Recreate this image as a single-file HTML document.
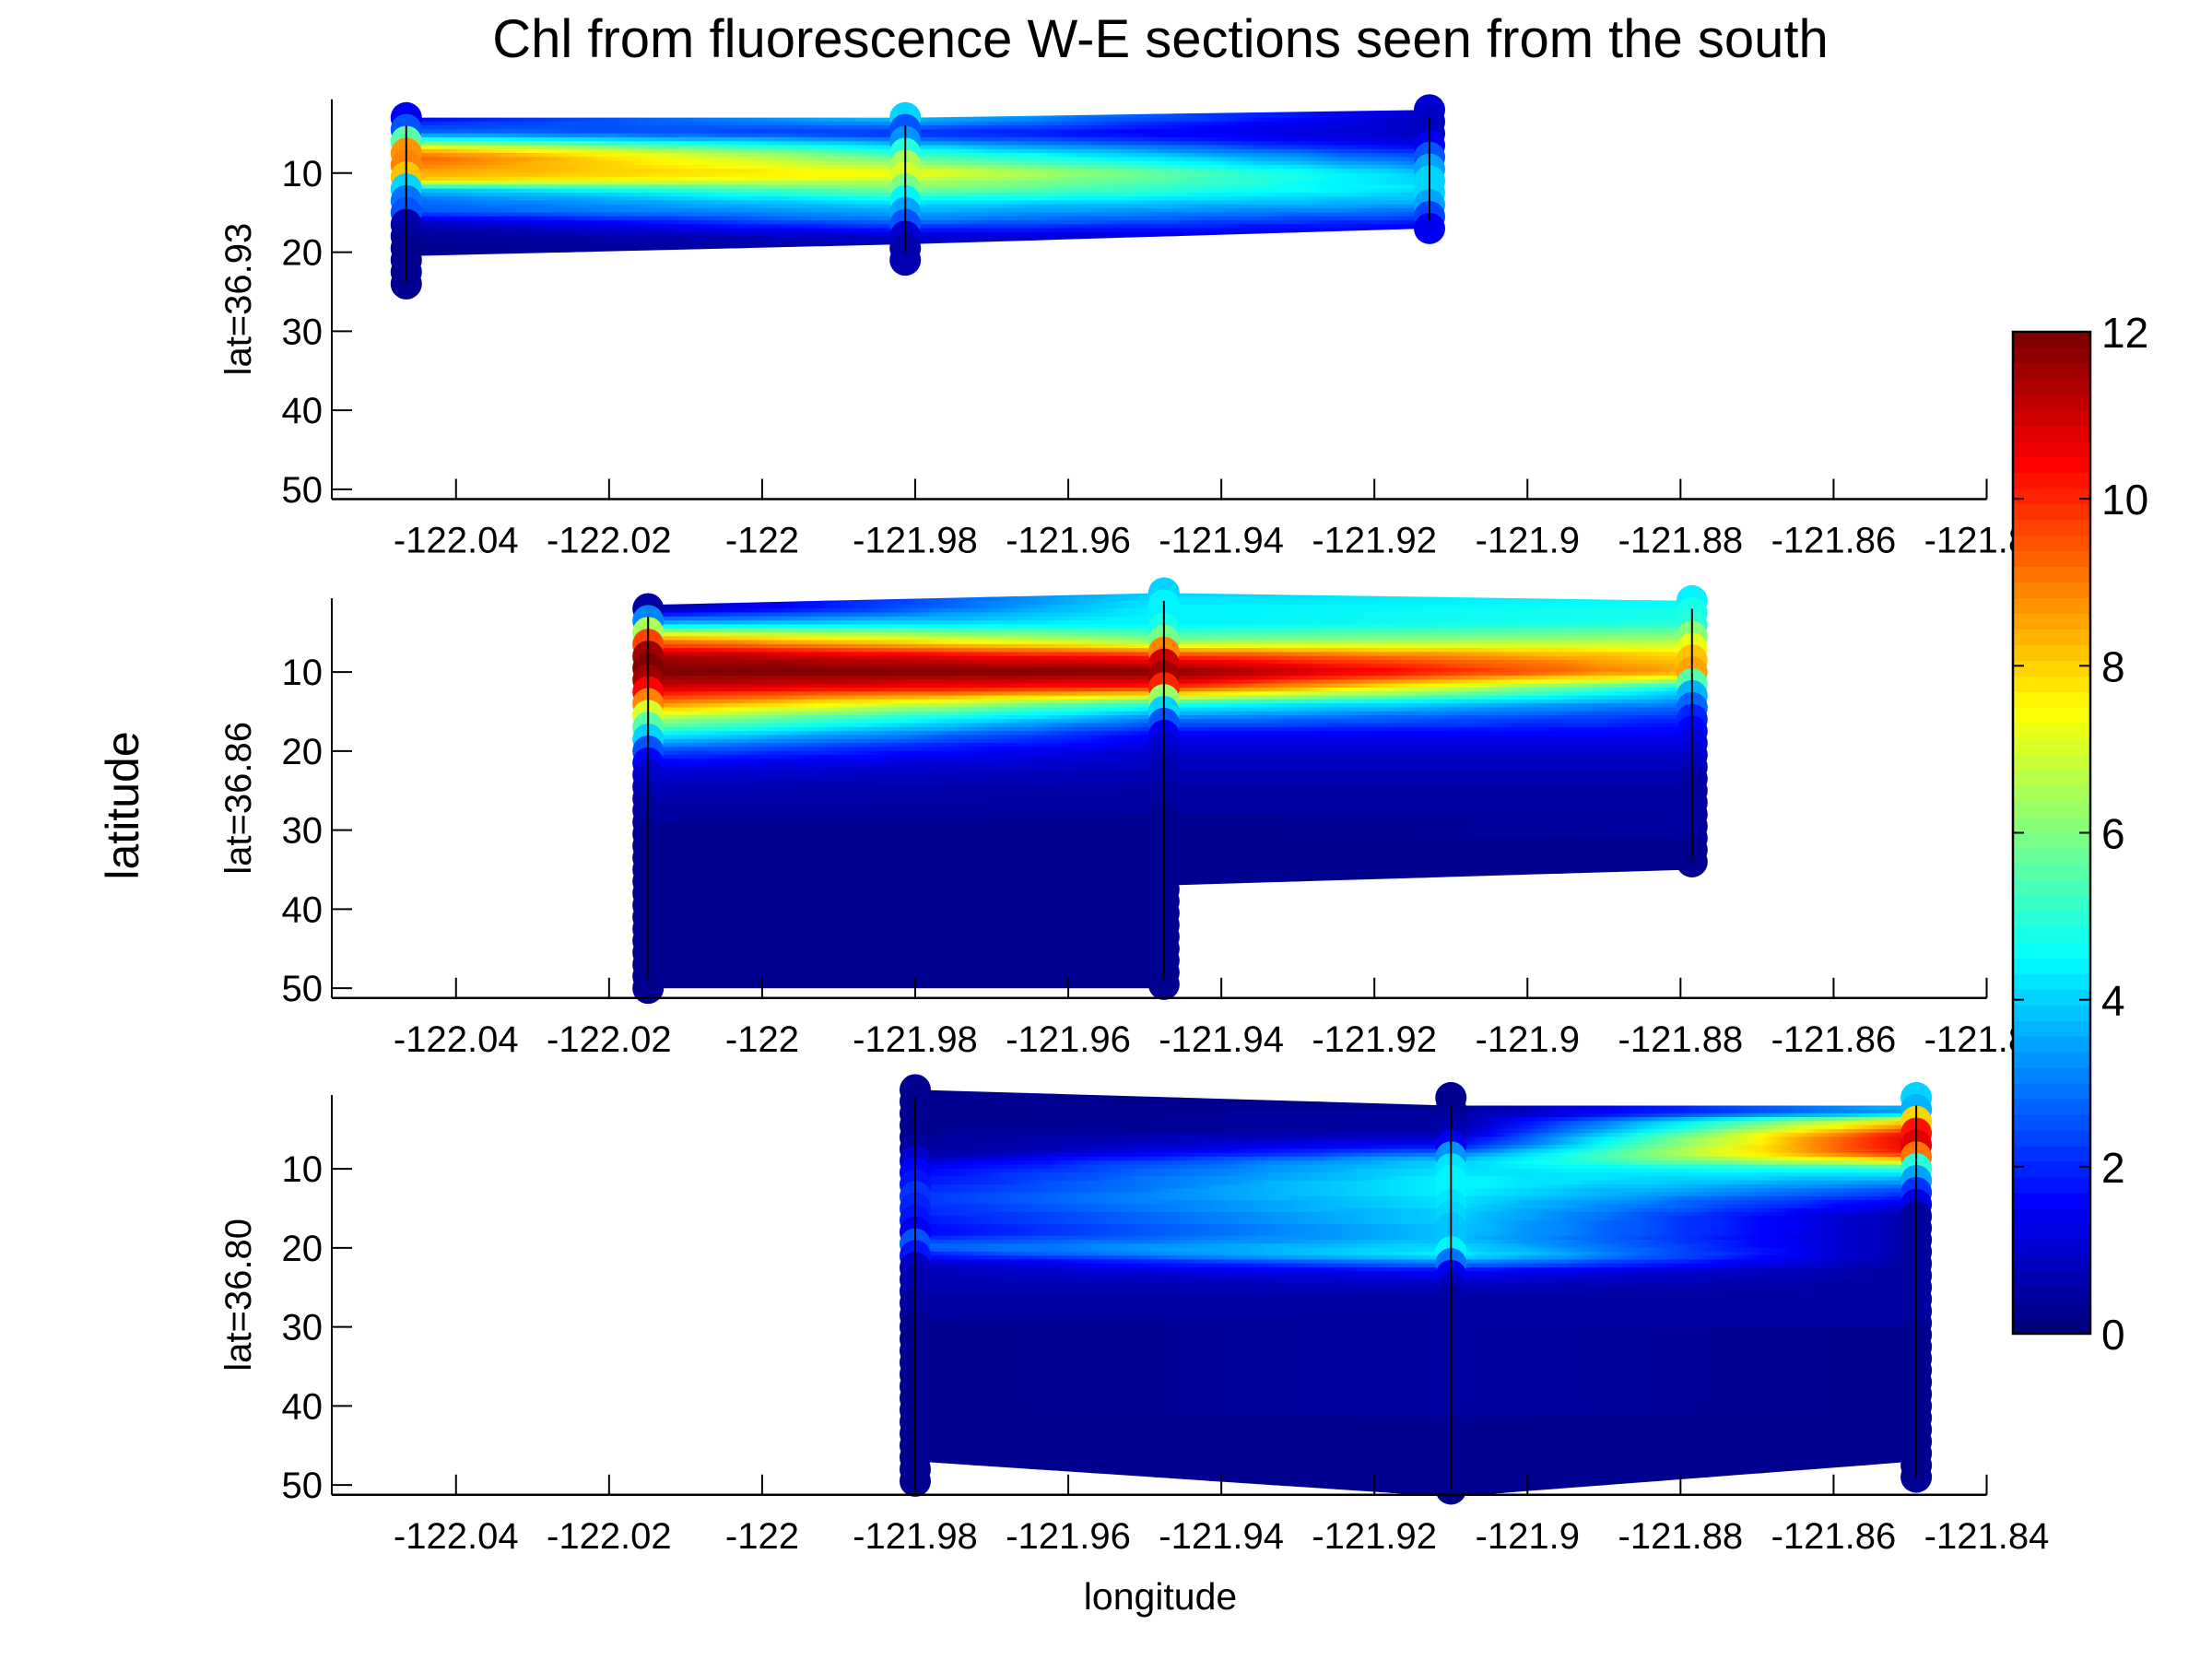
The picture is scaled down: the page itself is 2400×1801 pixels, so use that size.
<!DOCTYPE html>
<html><head><meta charset="utf-8"><style>
html,body{margin:0;padding:0;background:#fff;}
svg{display:block;font-family:"Liberation Sans",sans-serif;}
</style></head><body>
<svg id="chart" width="2400" height="1801" viewBox="0 0 2400 1801" xmlns="http://www.w3.org/2000/svg">
<rect width="2400" height="1801" fill="#fff"/>
<text x="1259" y="62" font-size="58" text-anchor="middle">Chl from fluorescence W-E sections seen from the south</text>
<text transform="translate(150,874) rotate(-90)" font-size="50" text-anchor="middle">latitude</text>
<text x="1259" y="1746" font-size="41" text-anchor="middle">longitude</text>
<g id="defs-holder"></g>
<g id="panels"></g>
<g id="cbar"></g>
</svg>
<script>
// ---- data ----
const panelLabels = ["lat=36.93", "lat=36.86", "lat=36.80"];
const xTicks = [-122.04, -122.02, -122, -121.98, -121.96, -121.94, -121.92, -121.9, -121.88, -121.86, -121.84];
const xTickLabels = ["-122.04", "-122.02", "-122", "-121.98", "-121.96", "-121.94", "-121.92", "-121.9", "-121.88", "-121.86", "-121.84"];
const yTicks = [10, 20, 30, 40, 50];
const cbarTicks = [0, 2, 4, 6, 8, 10, 12];
// station longitudes per panel
const p1Lon = [-122.0465, -121.9813, -121.9128];
const p2Lon = [-122.0149, -121.9475, -121.8785];
const p3Lon = [-121.9800, -121.9100, -121.8492];
// marker extents (depth) per station
const p1MTop = [3, 3, 2], p1MBot = [25, 21, 17];
const p2MTop = [2, 0, 1], p2MBot = [50, 50, 35];
const p3MTop = [0, 1, 1], p3MBot = [50, 51.5, 50];
// section fill top/bottom depth per segment [atA, atB]
const p1SegTop = [[3, 3], [3, 2]], p1SegBot = [[20.5, 19], [19, 17]];
const p2SegTop = [[1.5, 0], [0, 1]], p2SegBot = [[50, 50], [37, 35]];
const p3SegTop = [[0, 2], [2, 2]], p3SegBot = [[47, 51.5], [51.5, 47]];
// profiles: depths and chl values per station
const p1Depth = [
  [3, 5, 7, 8, 9, 11, 12, 13, 15, 16, 17, 19, 21, 25],
  [3, 5, 7, 9, 10, 12, 14, 16, 17, 18, 19, 21],
  [2, 4, 6, 8, 10, 12, 14, 16, 17]];
const p1Chl = [
  [1.5, 3, 8, 9.5, 9, 8, 4, 3, 2.5, 1, 0.5, 0.3, 0.3, 0.3],
  [4, 2, 4.5, 6.5, 7.5, 6, 4, 3, 2, 1, 0.7, 0.7],
  [1, 0.8, 1, 2.5, 3.8, 4.2, 3.5, 2, 1.5]];
const p2Depth = [
  [2, 4, 6, 8, 10, 12, 14, 16, 18, 20, 22, 25, 30, 50],
  [0, 2, 4, 6, 8, 10, 12, 14, 16, 18, 20, 25, 30, 50],
  [1, 4, 6, 8, 10, 12, 14, 16, 18, 20, 25, 35]];
const p2Chl = [
  [0.5, 4, 9, 11.5, 12, 11, 9, 6.5, 4.5, 2.5, 1.2, 0.7, 0.3, 0.2],
  [4, 4.5, 4.5, 6, 10, 12, 10, 5, 3, 1.5, 1, 0.5, 0.3, 0.2],
  [4.5, 5, 6.5, 8, 8.5, 4.5, 3, 2, 1.5, 1, 0.5, 0.3]];
const p3Depth = [
  [0, 8, 10, 14, 18, 20, 22, 30, 50],
  [1, 5, 7, 9, 12, 16, 19, 21, 23, 26, 51],
  [1, 3, 4, 6, 8, 10, 12, 14, 16, 50]];
const p3Chl = [
  [0.3, 0.4, 1.5, 2.2, 1.5, 2.8, 0.8, 0.3, 0.2],
  [0.3, 0.5, 1.5, 4, 4.5, 4, 3.8, 4.5, 1.5, 0.5, 0.3],
  [4, 3.5, 8, 11, 10.5, 5, 3, 1.5, 0.5, 0.2]];

// ---- layout ----
const XL = 360, XR = 2155.5, LON0 = -122.05623, LON1 = -121.84;
const panelTops = [107.7, 649, 1188], PH = 433.8;
const ZMIN = 0.66, ZMAX = 51.24;
const CB = {x: 2184, y: 360, w: 84, h: 1087};
const xs = lon => XL + (lon - LON0) / (LON1 - LON0) * (XR - XL);
const ys = (z, p) => panelTops[p] + (z - ZMIN) / (ZMAX - ZMIN) * PH;
const NS = "http://www.w3.org/2000/svg";

function jet(v) {
  let t = Math.max(0, Math.min(1, v / 12));
  t = Math.floor(t * 63.999) / 63;
  const r = Math.max(0, Math.min(1, 1.5 - Math.abs(4 * t - 3)));
  const g = Math.max(0, Math.min(1, 1.5 - Math.abs(4 * t - 2)));
  const b = Math.max(0, Math.min(1, 1.5 - Math.abs(4 * t - 1)));
  return `rgb(${Math.round(r*255)},${Math.round(g*255)},${Math.round(b*255)})`;
}
function interp(d, v, z) {
  if (z <= d[0]) return v[0];
  if (z >= d[d.length-1]) return v[v.length-1];
  for (let i = 0; i < d.length - 1; i++) if (z >= d[i] && z <= d[i+1]) {
    const f = (z - d[i]) / (d[i+1] - d[i]); return v[i] + f * (v[i+1] - v[i]);
  }
}
function mk(tag, attrs, parent) {
  const e = document.createElementNS(NS, tag);
  for (const k in attrs) e.setAttribute(k, attrs[k]);
  parent.appendChild(e); return e;
}
const defs = mk('defs', {}, document.getElementById('defs-holder'));
const root = document.getElementById('panels');
const panels = [
  {lon: p1Lon, mt: p1MTop, mb: p1MBot, st: p1SegTop, sb: p1SegBot, d: p1Depth, c: p1Chl},
  {lon: p2Lon, mt: p2MTop, mb: p2MBot, st: p2SegTop, sb: p2SegBot, d: p2Depth, c: p2Chl},
  {lon: p3Lon, mt: p3MTop, mb: p3MBot, st: p3SegTop, sb: p3SegBot, d: p3Depth, c: p3Chl}];
let gid = 0;
panels.forEach((P, p) => {
  const g = mk('g', {}, root);
  
  
  for (let s = 0; s < P.lon.length - 1; s++) {
    const xa = xs(P.lon[s]), xb = xs(P.lon[s+1]);
    const cid = 'clip' + p + '_' + s;
    const cp = mk('clipPath', {id: cid}, defs);
    mk('polygon', {points: `${xa},${ys(P.st[s][0],p)} ${xb},${ys(P.st[s][1],p)} ${xb},${ys(P.sb[s][1],p)} ${xa},${ys(P.sb[s][0],p)}`}, cp);
    const sg = mk('g', {'clip-path': `url(#${cid})`}, g);
    
    
    const dz = 0.5;
    for (let z = 0; z < 52; z += dz) {
      const zc = z + dz / 2;
      const va = interp(P.d[s], P.c[s], zc), vb = interp(P.d[s+1], P.c[s+1], zc);
      const id = 'gr' + (gid++);
      const lg = mk('linearGradient', {id, gradientUnits: 'userSpaceOnUse', x1: xa, x2: xb, y1: 0, y2: 0}, defs);
      const n = Math.abs(va - vb) > 0.5 ? 12 : 1;
      for (let k = 0; k <= n; k++) {
        const f = k / n;
        mk('stop', {offset: f, 'stop-color': jet(va + (vb - va) * f)}, lg);
      }
      mk('rect', {x: xa - 1, y: ys(z, p) - 0.3, width: xb - xa + 2, height: ys(z + dz, p) - ys(z, p) + 0.6, fill: `url(#${id})`}, sg);
    }
  }
  P.lon.forEach((lon, s) => {
    const x = xs(lon);
    const mg = mk('g', {}, g);
    
    
    for (let z = P.mt[s]; z <= P.mb[s] + 0.01; z += 1.5) {
      const c = mk('circle', {cx: x, cy: ys(z, p), r: 17, fill: jet(interp(P.d[s], P.c[s], z))}, mg);
      
      
    }
    mk('line', {x1: x, x2: x, y1: ys(P.mt[s] + 1, p), y2: ys(P.mb[s] - 1, p), stroke: '#000', 'stroke-width': 2}, mg);
  });
  const top = panelTops[p], bot = top + PH;
  const ax = mk('g', {}, g);
  
  
  mk('line', {x1: XL, x2: XL, y1: top, y2: bot, stroke: '#000', 'stroke-width': 2}, ax);
  mk('line', {x1: XL, x2: XR, y1: bot, y2: bot, stroke: '#000', 'stroke-width': 2.5}, ax);
  xTicks.forEach((t, i) => {
    const x = xs(t);
    mk('line', {x1: x, x2: x, y1: bot, y2: bot - 22, stroke: '#000', 'stroke-width': 2}, ax);
    const tx = mk('text', {x: x, y: bot + 58, 'font-size': 40, 'text-anchor': 'middle'}, ax);
    tx.textContent = xTickLabels[i];
    
    
  });
  yTicks.forEach(t => {
    const y = ys(t, p);
    mk('line', {x1: XL, x2: XL + 22, y1: y, y2: y, stroke: '#000', 'stroke-width': 2}, ax);
    const tx = mk('text', {x: XL - 10, y: y + 14, 'font-size': 40, 'text-anchor': 'end'}, ax);
    tx.textContent = t;
    
    
  });
  const lb = mk('text', {transform: `translate(272,${top + PH * 0.5}) rotate(-90)`, 'font-size': 40, 'text-anchor': 'middle'}, ax);
  lb.textContent = panelLabels[p];
  
  
});
const cb = document.getElementById('cbar');


mk('rect', {x: CB.x, y: CB.y - 5, width: CB.w + 20, height: CB.h + 10, fill: '#fff'}, cb);
for (let i = 0; i < 64; i++) {
  const h = CB.h / 64;
  mk('rect', {x: CB.x, y: CB.y + CB.h - (i + 1) * h - 0.3, width: CB.w, height: h + 0.6, fill: jet((i + 0.5) / 64 * 12)}, cb);
}
mk('rect', {x: CB.x, y: CB.y, width: CB.w, height: CB.h, fill: 'none', stroke: '#000', 'stroke-width': 2.5}, cb);
cbarTicks.forEach(t => {
  const y = CB.y + CB.h - t / 12 * CB.h;
  mk('line', {x1: CB.x, x2: CB.x + 12, y1: y, y2: y, stroke: '#000', 'stroke-width': 2}, cb);
  mk('line', {x1: CB.x + CB.w - 12, x2: CB.x + CB.w, y1: y, y2: y, stroke: '#000', 'stroke-width': 2}, cb);
  const tx = mk('text', {x: CB.x + CB.w + 12, y: y + 17, 'font-size': 46}, cb);
  tx.textContent = t;
  
  
});
</script>
</body></html>
